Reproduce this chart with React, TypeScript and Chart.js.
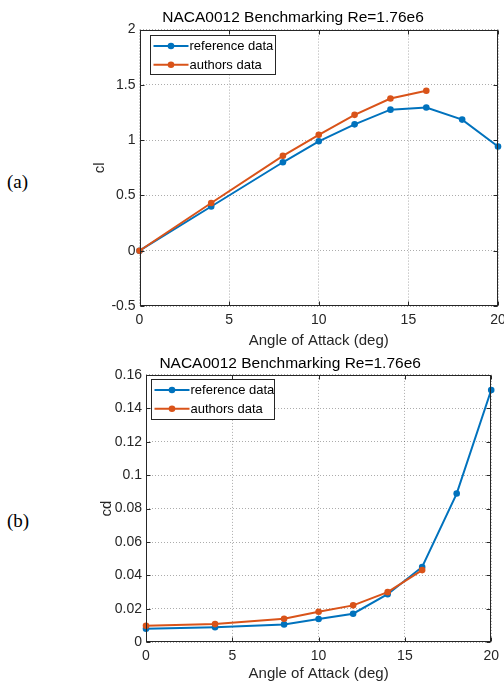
import React, { useEffect, useRef } from "react";
import { Chart, registerables } from "chart.js";
Chart.register(...registerables);

const titleText = "NACA0012 Benchmarking Re=1.76e6";
const xLabel = "Angle of Attack (deg)";
const seriesNames = ["reference data", "authors data"];
const seriesColors = ["#0072BD", "#D95319"];

const aoaRef = [0, 4, 8, 10, 12, 14, 16, 18, 20];
const aoaAuth = [0, 4, 8, 10, 12, 14, 16];
const clRef = [0, 0.4, 0.8, 0.99, 1.143, 1.276, 1.296, 1.186, 0.943];
const clAuth = [0, 0.432, 0.858, 1.048, 1.229, 1.377, 1.447];
const cdRef = [0.0081, 0.009, 0.0107, 0.0139, 0.0171, 0.0288, 0.0451, 0.089, 0.151];
const cdAuth = [0.0099, 0.0109, 0.0141, 0.0183, 0.0221, 0.03, 0.0432];

const xTicks = [0, 5, 10, 15, 20];
const xTickLabels = ["0", "5", "10", "15", "20"];
const clTicks = [-0.5, 0, 0.5, 1, 1.5, 2];
const clTickLabels = ["-0.5", "0", "0.5", "1", "1.5", "2"];
const cdTicks = [0, 0.02, 0.04, 0.06, 0.08, 0.1, 0.12, 0.14, 0.16];
const cdTickLabels = ["0", "0.02", "0.04", "0.06", "0.08", "0.1", "0.12", "0.14", "0.16"];

const FONT = "'Liberation Sans', Arial, Helvetica, sans-serif";
const AXIS = "#262626";

const frameLegendPlugin = {
  id: "frameLegend",
  afterDraw(chart: any, _args: any, opts: any) {
    const { ctx, chartArea: a, scales } = chart;
    ctx.save();
    ctx.strokeStyle = AXIS;
    ctx.lineWidth = 1;
    const xs = scales.x;
    const ys = scales.y;
    const L = Math.round(a.left) + 0.5;
    const R = Math.round(a.right) - 0.5;
    const T = Math.round(a.top) + 0.5;
    const B = Math.round(a.bottom) - 0.5;
    ctx.beginPath();
    xs.ticks.forEach((t: any) => {
      const p = Math.round(xs.getPixelForValue(t.value)) + 0.5;
      ctx.moveTo(p, B);
      ctx.lineTo(p, B - 4);
      ctx.moveTo(p, T);
      ctx.lineTo(p, T + 4);
    });
    ys.ticks.forEach((t: any) => {
      const p = Math.round(ys.getPixelForValue(t.value)) + 0.5;
      ctx.moveTo(L, p);
      ctx.lineTo(L + 4, p);
      ctx.moveTo(R, p);
      ctx.lineTo(R - 4, p);
    });
    ctx.stroke();
    ctx.strokeRect(L, T, R - L, B - T);

    // legend
    const lx = Math.round(a.left + opts.dx) + 0.5;
    const ly = Math.round(a.top + opts.dy) + 0.5;
    const w = opts.w;
    const h = opts.h;
    ctx.fillStyle = "#ffffff";
    ctx.fillRect(lx, ly, w, h);
    ctx.strokeStyle = AXIS;
    ctx.strokeRect(lx, ly, w, h);
    const items = [...chart.data.datasets].sort((p: any, q: any) => p.legendIndex - q.legendIndex);
    items.forEach((ds: any, i: number) => {
      const cy = ly + 10.5 + i * 18.8;
      ctx.strokeStyle = ds.borderColor;
      ctx.lineWidth = 2;
      ctx.beginPath();
      ctx.moveTo(lx + 3, cy);
      ctx.lineTo(lx + 38, cy);
      ctx.stroke();
      ctx.fillStyle = ds.borderColor;
      ctx.beginPath();
      ctx.arc(lx + 20.5, cy, 3.3, 0, Math.PI * 2);
      ctx.fill();
      ctx.fillStyle = "#000000";
      ctx.font = `13px ${FONT}`;
      ctx.textBaseline = "middle";
      ctx.textAlign = "left";
      ctx.fillText(ds.label, lx + 39, cy + 0.5);
    });
    ctx.restore();
  },
};

function makeConfig(
  ref: number[],
  auth: number[],
  yTicks: number[],
  yTickLabels: string[],
  yTitle: string,
  p: any
) {
  const mk = (xs: number[], ys: number[]) => xs.map((x, i) => ({ x, y: ys[i] }));
  const ds = (idx: number, xs: number[], ys: number[], order: number) => ({
    label: seriesNames[idx],
    legendIndex: idx,
    data: mk(xs, ys),
    borderColor: seriesColors[idx],
    backgroundColor: seriesColors[idx],
    borderWidth: 2,
    pointRadius: 3.3,
    pointBorderWidth: 0,
    pointBackgroundColor: seriesColors[idx],
    fill: false,
    tension: 0,
    clip: false,
    order,
  });
  return {
    type: "line",
    data: {
      datasets: [ds(1, aoaAuth, auth, 0), ds(0, aoaRef, ref, 1)],
    },
    options: {
      animation: false,
      responsive: false,
      devicePixelRatio: 1,
      events: [],
      layout: { padding: { left: 0, right: p.padRight, top: 0, bottom: 0 } },
      plugins: {
        legend: { display: false },
        tooltip: { enabled: false },
        title: {
          display: true,
          text: titleText,
          color: "#000000",
          font: { family: FONT, size: 15.5, weight: "normal", lineHeight: 1.2 },
          padding: { top: p.titleTop, bottom: p.titleBottom },
        },
        frameLegend: p.legend,
      },
      scales: {
        x: {
          type: "linear",
          min: 0,
          max: 20,
          afterBuildTicks: (s: any) => {
            s.ticks = xTicks.map((v) => ({ value: v }));
          },
          afterFit: (s: any) => {
            s.height = p.xHeight;
          },
          ticks: {
            color: AXIS,
            font: { family: FONT, size: 14 },
            padding: p.xTickPad,
            maxRotation: 0,
            autoSkip: false,
            callback: (_v: any, i: number) => xTickLabels[i],
          },
          grid: {
            color: "rgba(38,38,38,0.38)",
            lineWidth: 1,
            drawTicks: false,
          },
          border: { display: false, dash: [1, 2] },
          title: {
            display: true,
            text: xLabel,
            color: AXIS,
            font: { family: FONT, size: 15, lineHeight: 1.2 },
            padding: { top: 0, bottom: p.xTitlePad },
          },
        },
        y: {
          type: "linear",
          min: yTicks[0],
          max: yTicks[yTicks.length - 1],
          afterBuildTicks: (s: any) => {
            s.ticks = yTicks.map((v) => ({ value: v }));
          },
          afterFit: (s: any) => {
            s.width = p.yWidth;
          },
          ticks: {
            color: AXIS,
            font: { family: FONT, size: 14 },
            padding: 4,
            autoSkip: false,
            callback: (_v: any, i: number) => yTickLabels[i],
          },
          grid: {
            color: "rgba(38,38,38,0.38)",
            lineWidth: 1,
            drawTicks: false,
          },
          border: { display: false, dash: [1, 2] },
          title: {
            display: true,
            text: yTitle,
            color: AXIS,
            font: { family: FONT, size: 15, lineHeight: 1.2 },
            padding: { top: p.yTitlePad, bottom: 0 },
          },
        },
      },
    },
    plugins: [frameLegendPlugin],
  } as any;
}

function ChartCanvas(props: { cfg: any; left: number; top: number; width: number; height: number }) {
  const ref = useRef<HTMLCanvasElement | null>(null);
  useEffect(() => {
    if (!ref.current) return;
    const chart = new Chart(ref.current, props.cfg);
    return () => chart.destroy();
  }, []);
  return (
    <canvas
      ref={ref}
      width={props.width}
      height={props.height}
      style={{
        position: "absolute",
        left: props.left,
        top: props.top,
        width: props.width,
        height: props.height,
      }}
    />
  );
}

export default function App() {
  const cfgA = makeConfig(clRef, clAuth, clTicks, clTickLabels, "cl", {
    padRight: 20,
    titleTop: 8,
    titleBottom: 3,
    xHeight: 44,
    xTickPad: 6,
    xTitlePad: 0,
    yWidth: 51.5,
    yTitlePad: 3,
    legend: { dx: 10.5, dy: 5, w: 125, h: 39 },
  });
  const cfgB = makeConfig(cdRef, cdAuth, cdTicks, cdTickLabels, "cd", {
    padRight: 11.7,
    titleTop: 4,
    titleBottom: 2.3,
    xHeight: 41.7,
    xTickPad: 5,
    xTitlePad: 0.7,
    yWidth: 58,
    yTitlePad: 10,
    legend: { dx: 5, dy: 4, w: 123, h: 40 },
  });
  const labelStyle: React.CSSProperties = {
    position: "absolute",
    left: 7,
    fontFamily: "'Liberation Serif', 'Times New Roman', serif",
    fontSize: 19,
    lineHeight: "20px",
    color: "#000",
  };
  return (
    <div
      style={{
        position: "absolute",
        left: 0,
        top: 0,
        width: 504,
        height: 684,
        overflow: "hidden",
        background: "#fff",
      }}
    >
      <div style={{ ...labelStyle, top: 172 }}>(a)</div>
      <div style={{ ...labelStyle, top: 511 }}>(b)</div>
      <ChartCanvas cfg={cfgA} left={88} top={0} width={430} height={350} />
      <ChartCanvas cfg={cfgB} left={88} top={350} width={416} height={334} />
    </div>
  );
}
